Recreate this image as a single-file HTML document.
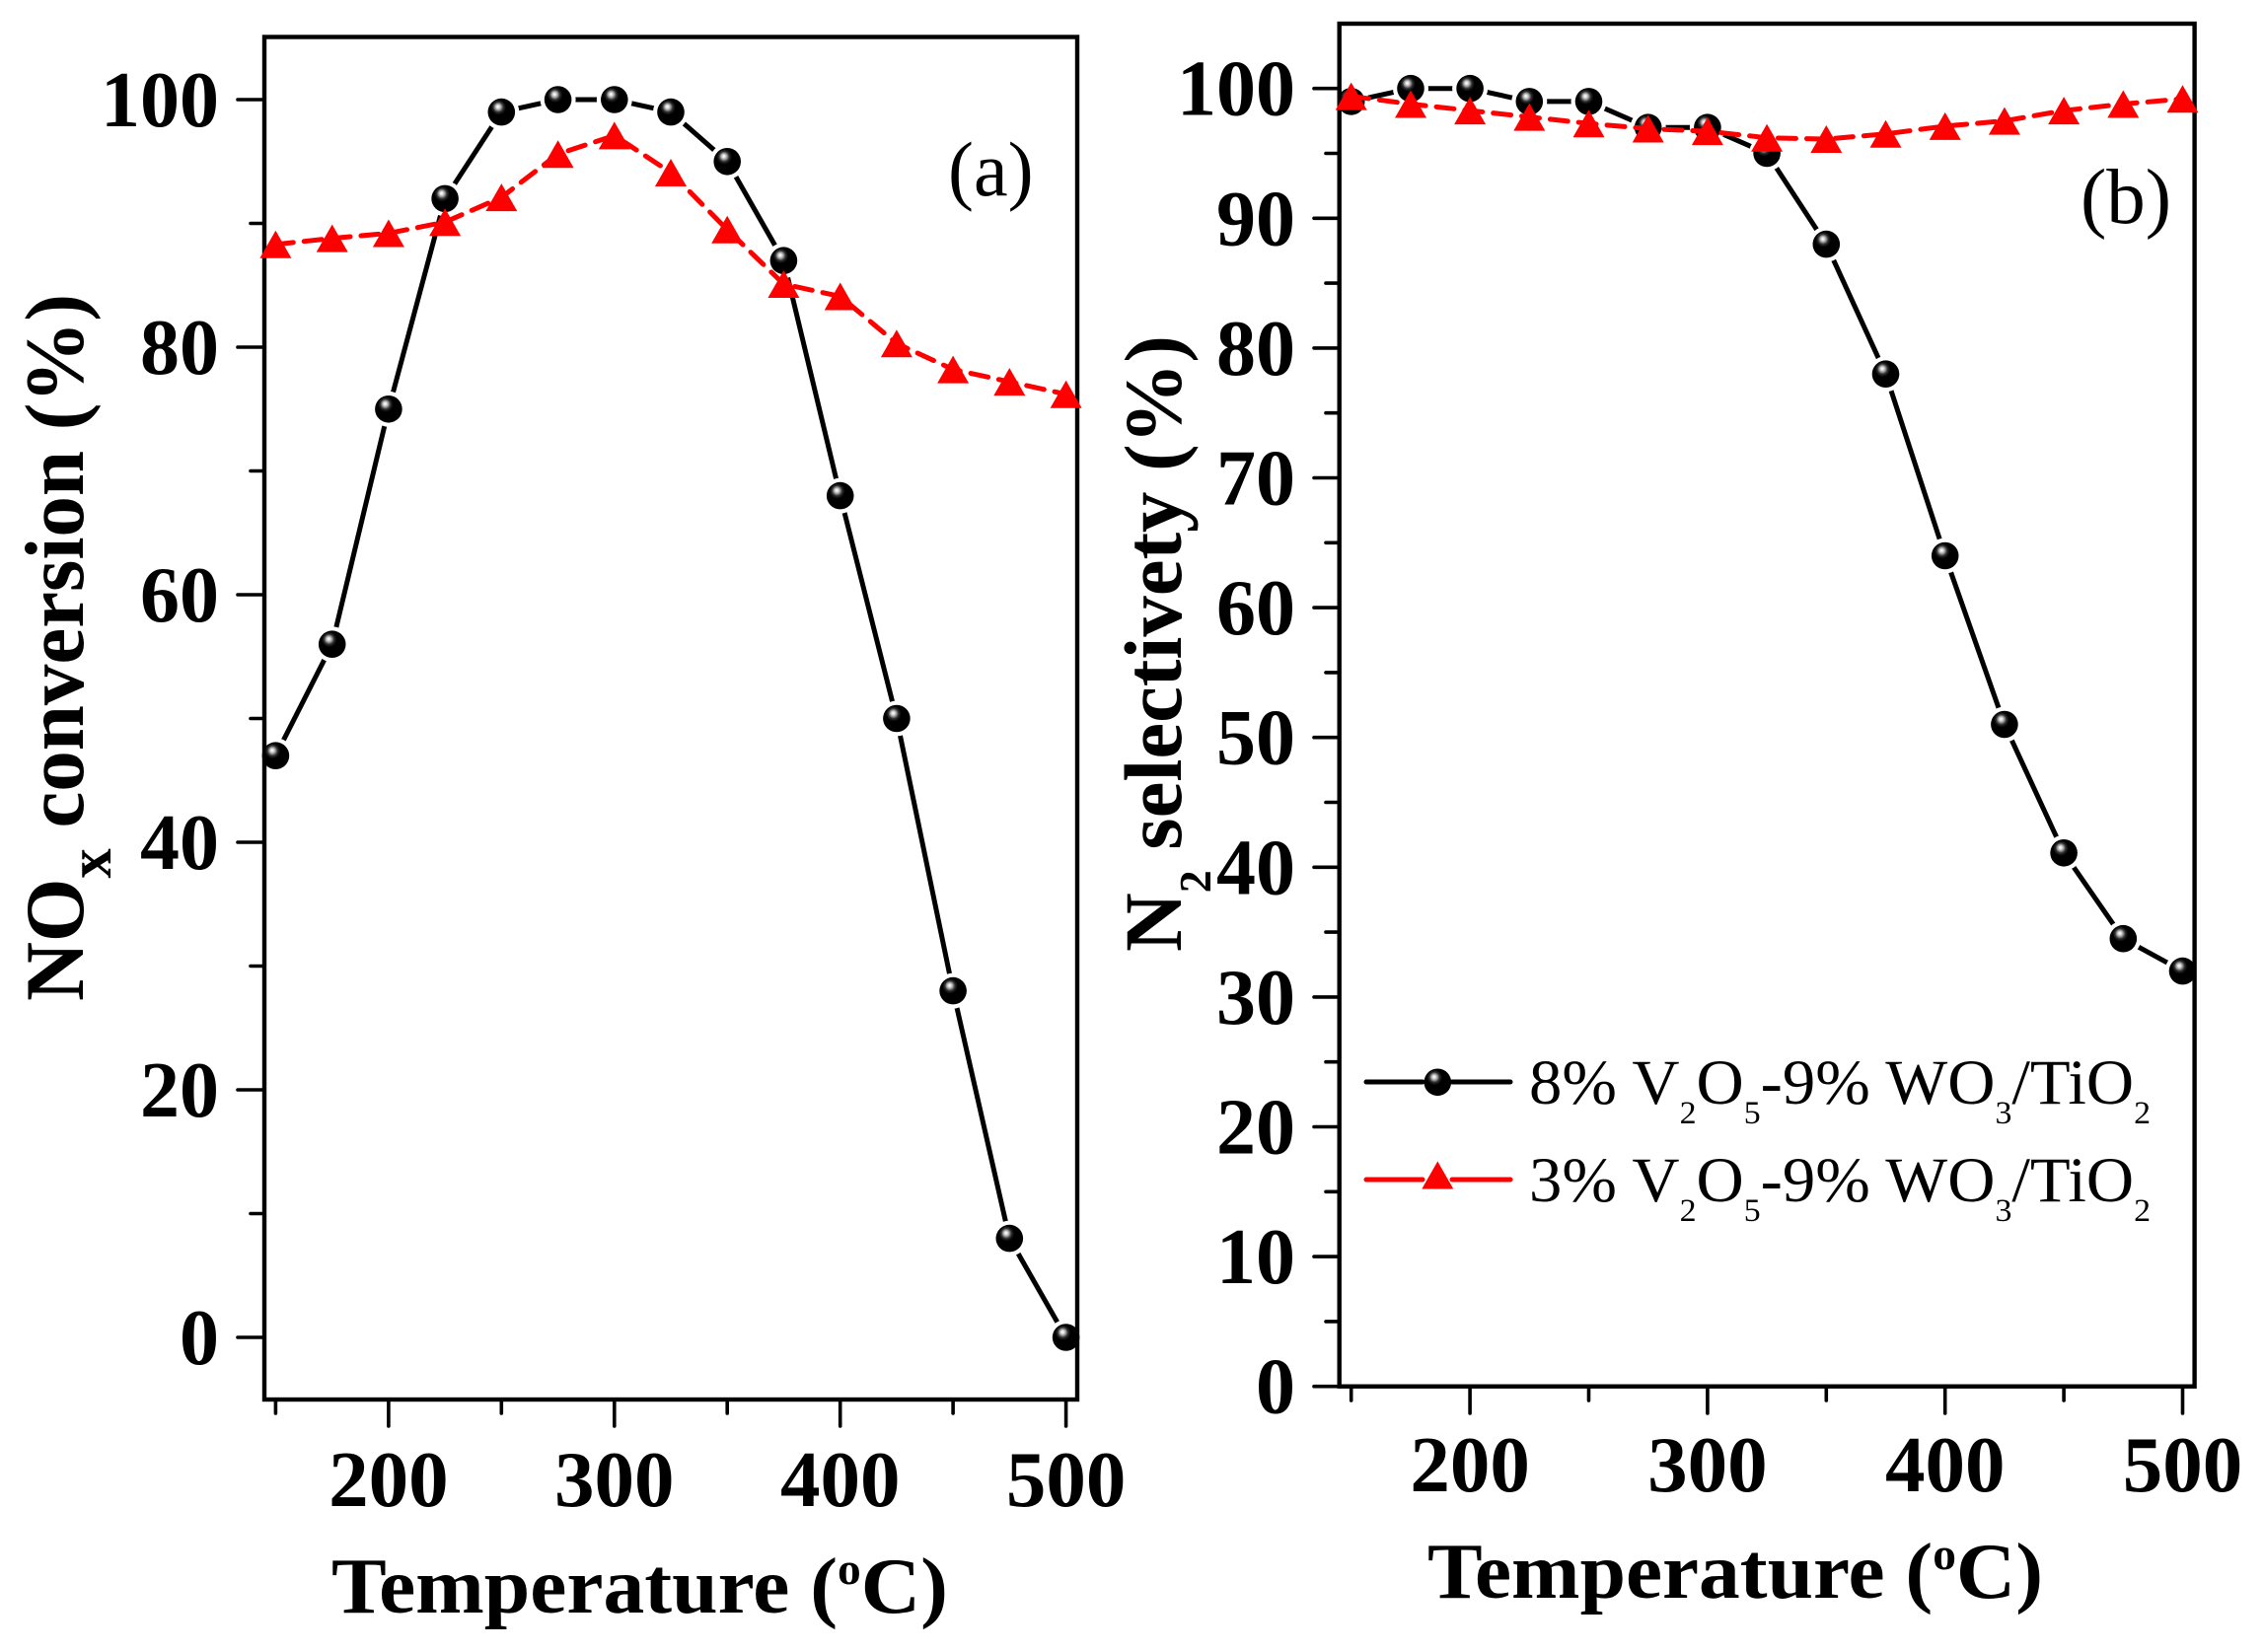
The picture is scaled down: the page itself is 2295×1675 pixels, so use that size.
<!DOCTYPE html>
<html>
<head>
<meta charset="utf-8">
<style>
  html,body{margin:0;padding:0;background:#fff;}
  svg{display:block;}
  text{font-family:"Liberation Serif","Times New Roman",serif;fill:#000;}
  .b{font-weight:bold;}
</style>
</head>
<body>
<svg width="2295" height="1675" viewBox="0 0 2295 1675" xmlns="http://www.w3.org/2000/svg">
<defs>
  <radialGradient id="sph" cx="0.42" cy="0.36" r="0.62" fx="0.37" fy="0.3">
    <stop offset="0" stop-color="#ffffff"/>
    <stop offset="0.08" stop-color="#e6e6e6"/>
    <stop offset="0.2" stop-color="#909090"/>
    <stop offset="0.3" stop-color="#303030"/>
    <stop offset="0.45" stop-color="#000000"/>
    <stop offset="1" stop-color="#000000"/>
  </radialGradient>
  <g id="tri"><polygon points="0,-14 16,14 -16,14" fill="#ff0000"/></g>
  <g id="sp"><circle r="13.8" fill="url(#sph)"/></g>
  <mask id="ma" maskUnits="userSpaceOnUse" x="0" y="0" width="2295" height="1675">
    <rect x="0" y="0" width="2295" height="1675" fill="#fff"/>
    <g fill="#000">
      <circle cx="279.4" cy="766.2" r="18"/><circle cx="336.7" cy="653.2" r="18"/><circle cx="393.9" cy="414.8" r="18"/>
      <circle cx="451.1" cy="201.4" r="18"/><circle cx="508.3" cy="113.6" r="18"/><circle cx="565.6" cy="101" r="18"/>
      <circle cx="622.8" cy="101" r="18"/><circle cx="680.0" cy="113.6" r="18"/><circle cx="737.2" cy="163.8" r="18"/>
      <circle cx="794.4" cy="264.2" r="18"/><circle cx="851.7" cy="502.6" r="18"/><circle cx="908.9" cy="728.5" r="18"/>
      <circle cx="966.1" cy="1004.6" r="18"/><circle cx="1023.3" cy="1255.6" r="18"/><circle cx="1080.6" cy="1356" r="18"/>
    </g>
  </mask>
  <mask id="mb" maskUnits="userSpaceOnUse" x="0" y="0" width="2295" height="1675">
    <rect x="0" y="0" width="2295" height="1675" fill="#fff"/>
    <g fill="#000">
      <circle cx="1369.7" cy="102.9" r="18"/><circle cx="1430.0" cy="89.7" r="18"/><circle cx="1490.1" cy="89.7" r="18"/>
      <circle cx="1550.3" cy="102.9" r="18"/><circle cx="1610.5" cy="102.9" r="18"/><circle cx="1670.7" cy="129.2" r="18"/>
      <circle cx="1730.9" cy="129.2" r="18"/><circle cx="1791.1" cy="155.5" r="18"/><circle cx="1851.3" cy="247.6" r="18"/>
      <circle cx="1911.5" cy="379.2" r="18"/><circle cx="1971.7" cy="563.5" r="18"/><circle cx="2031.9" cy="734.5" r="18"/>
      <circle cx="2092.1" cy="864.8" r="18"/><circle cx="2152.3" cy="951.7" r="18"/><circle cx="2212.5" cy="984.6" r="18"/>
    </g>
  </mask>
</defs>

<rect x="0" y="0" width="2295" height="1675" fill="#fff"/>

<!-- ================= PANEL A ================= -->
<rect x="268" y="37.5" width="824" height="1381.5" fill="none" stroke="#000" stroke-width="4.4"/>
<g stroke="#000" stroke-width="3.6" stroke-linecap="round">
  <line x1="241" y1="1356" x2="268" y2="1356"/>
  <line x1="241" y1="1105" x2="268" y2="1105"/>
  <line x1="241" y1="854" x2="268" y2="854"/>
  <line x1="241" y1="603" x2="268" y2="603"/>
  <line x1="241" y1="352" x2="268" y2="352"/>
  <line x1="241" y1="101" x2="268" y2="101"/>
  <line x1="254" y1="1230.5" x2="268" y2="1230.5"/>
  <line x1="254" y1="979.5" x2="268" y2="979.5"/>
  <line x1="254" y1="728.5" x2="268" y2="728.5"/>
  <line x1="254" y1="477.5" x2="268" y2="477.5"/>
  <line x1="254" y1="226.5" x2="268" y2="226.5"/>
  <line x1="393.9" y1="1419" x2="393.9" y2="1446"/>
  <line x1="622.8" y1="1419" x2="622.8" y2="1446"/>
  <line x1="851.7" y1="1419" x2="851.7" y2="1446"/>
  <line x1="1080.6" y1="1419" x2="1080.6" y2="1446"/>
  <line x1="279.4" y1="1419" x2="279.4" y2="1433"/>
  <line x1="508.3" y1="1419" x2="508.3" y2="1433"/>
  <line x1="737.2" y1="1419" x2="737.2" y2="1433"/>
  <line x1="966.1" y1="1419" x2="966.1" y2="1433"/>
</g>

<g class="b" font-size="80" text-anchor="end">
  <text x="222" y="1383">0</text>
  <text x="222" y="1132">20</text>
  <text x="222" y="881">40</text>
  <text x="222" y="630">60</text>
  <text x="222" y="379">80</text>
  <text x="222" y="128">100</text>
</g>
<g class="b" font-size="81" text-anchor="middle">
  <text x="393.9" y="1527">200</text>
  <text x="622.8" y="1527">300</text>
  <text x="851.7" y="1527">400</text>
  <text x="1080.6" y="1527">500</text>
</g>
<text class="b" x="336" y="1635" font-size="81" textLength="625" lengthAdjust="spacingAndGlyphs">Temperature (<tspan font-size="46" dy="-29">o</tspan><tspan dy="29">C)</tspan></text>
<text class="b" transform="translate(84,1015) rotate(-90)" font-size="85" textLength="717" lengthAdjust="spacingAndGlyphs">NO<tspan font-size="62" dy="28">x</tspan><tspan dy="-28"> conversion (%)</tspan></text>
<text x="961" y="198" font-size="78">(a)</text>

<polyline mask="url(#ma)" fill="none" stroke="#000" stroke-width="5" stroke-linejoin="round" stroke-linecap="round"
  points="279.4,766.2 336.7,653.2 393.9,414.8 451.1,201.4 508.3,113.6 565.6,101 622.8,101 680.0,113.6 737.2,163.8 794.4,264.2 851.7,502.6 908.9,728.5 966.1,1004.6 1023.3,1255.6 1080.6,1356"/>
<g>
  <use href="#sp" x="279.4" y="766.2"/><use href="#sp" x="336.7" y="653.2"/><use href="#sp" x="393.9" y="414.8"/>
  <use href="#sp" x="451.1" y="201.4"/><use href="#sp" x="508.3" y="113.6"/><use href="#sp" x="565.6" y="101"/>
  <use href="#sp" x="622.8" y="101"/><use href="#sp" x="680.0" y="113.6"/><use href="#sp" x="737.2" y="163.8"/>
  <use href="#sp" x="794.4" y="264.2"/><use href="#sp" x="851.7" y="502.6"/><use href="#sp" x="908.9" y="728.5"/>
  <use href="#sp" x="966.1" y="1004.6"/><use href="#sp" x="1023.3" y="1255.6"/><use href="#sp" x="1080.6" y="1356"/>
</g>
<polyline fill="none" stroke="#ff0000" stroke-width="5" stroke-dasharray="18 11" stroke-linejoin="round" stroke-linecap="round"
  points="279.4,247.8 336.7,241.6 393.9,236.5 451.1,225.2 508.3,200.1 565.6,156.2 622.8,137.4 680.0,175.0 737.2,232.8 794.4,288.0 851.7,300.5 908.9,348.2 966.1,374.6 1023.3,387.1 1080.6,399.7"/>
<g>
  <use href="#tri" x="279.4" y="247.8"/><use href="#tri" x="336.7" y="241.6"/><use href="#tri" x="393.9" y="236.5"/>
  <use href="#tri" x="451.1" y="225.2"/><use href="#tri" x="508.3" y="200.1"/><use href="#tri" x="565.6" y="156.2"/>
  <use href="#tri" x="622.8" y="137.4"/><use href="#tri" x="680.0" y="175.0"/><use href="#tri" x="737.2" y="232.8"/>
  <use href="#tri" x="794.4" y="288.0"/><use href="#tri" x="851.7" y="300.5"/><use href="#tri" x="908.9" y="348.2"/>
  <use href="#tri" x="966.1" y="374.6"/><use href="#tri" x="1023.3" y="387.1"/><use href="#tri" x="1080.6" y="399.7"/>
</g>

<!-- ================= PANEL B ================= -->
<rect x="1357.7" y="24" width="866.9" height="1381.7" fill="none" stroke="#000" stroke-width="4.4"/>
<g stroke="#000" stroke-width="3.6" stroke-linecap="round">
  <line x1="1332" y1="1405.7" x2="1357.7" y2="1405.7"/>
  <line x1="1332" y1="1274.1" x2="1357.7" y2="1274.1"/>
  <line x1="1332" y1="1142.5" x2="1357.7" y2="1142.5"/>
  <line x1="1332" y1="1010.9" x2="1357.7" y2="1010.9"/>
  <line x1="1332" y1="879.3" x2="1357.7" y2="879.3"/>
  <line x1="1332" y1="747.7" x2="1357.7" y2="747.7"/>
  <line x1="1332" y1="616.1" x2="1357.7" y2="616.1"/>
  <line x1="1332" y1="484.5" x2="1357.7" y2="484.5"/>
  <line x1="1332" y1="352.9" x2="1357.7" y2="352.9"/>
  <line x1="1332" y1="221.3" x2="1357.7" y2="221.3"/>
  <line x1="1332" y1="89.7" x2="1357.7" y2="89.7"/>
  <line x1="1344" y1="1339.9" x2="1357.7" y2="1339.9"/>
  <line x1="1344" y1="1208.3" x2="1357.7" y2="1208.3"/>
  <line x1="1344" y1="1076.7" x2="1357.7" y2="1076.7"/>
  <line x1="1344" y1="945.1" x2="1357.7" y2="945.1"/>
  <line x1="1344" y1="813.5" x2="1357.7" y2="813.5"/>
  <line x1="1344" y1="681.9" x2="1357.7" y2="681.9"/>
  <line x1="1344" y1="550.3" x2="1357.7" y2="550.3"/>
  <line x1="1344" y1="418.7" x2="1357.7" y2="418.7"/>
  <line x1="1344" y1="287.1" x2="1357.7" y2="287.1"/>
  <line x1="1344" y1="155.5" x2="1357.7" y2="155.5"/>
  <line x1="1490.1" y1="1405.7" x2="1490.1" y2="1433"/>
  <line x1="1730.9" y1="1405.7" x2="1730.9" y2="1433"/>
  <line x1="1971.7" y1="1405.7" x2="1971.7" y2="1433"/>
  <line x1="2212.5" y1="1405.7" x2="2212.5" y2="1433"/>
  <line x1="1369.7" y1="1405.7" x2="1369.7" y2="1420"/>
  <line x1="1610.5" y1="1405.7" x2="1610.5" y2="1420"/>
  <line x1="1851.3" y1="1405.7" x2="1851.3" y2="1420"/>
  <line x1="2092.1" y1="1405.7" x2="2092.1" y2="1420"/>
</g>

<g class="b" font-size="80" text-anchor="end">
  <text x="1313" y="1432.7">0</text>
  <text x="1313" y="1301.1">10</text>
  <text x="1313" y="1169.5">20</text>
  <text x="1313" y="1037.9">30</text>
  <text x="1313" y="906.3">40</text>
  <text x="1313" y="774.7">50</text>
  <text x="1313" y="643.1">60</text>
  <text x="1313" y="511.5">70</text>
  <text x="1313" y="379.9">80</text>
  <text x="1313" y="248.3">90</text>
  <text x="1313" y="116.7">100</text>
</g>
<g class="b" font-size="81" text-anchor="middle">
  <text x="1490.1" y="1512">200</text>
  <text x="1730.9" y="1512">300</text>
  <text x="1971.7" y="1512">400</text>
  <text x="2212.5" y="1512">500</text>
</g>
<text class="b" x="1447" y="1620" font-size="81" textLength="624" lengthAdjust="spacingAndGlyphs">Temperature (<tspan font-size="46" dy="-29">o</tspan><tspan dy="29">C)</tspan></text>
<text class="b" transform="translate(1197,965) rotate(-90)" font-size="83" textLength="625" lengthAdjust="spacingAndGlyphs">N<tspan font-size="46" dy="30">2</tspan><tspan dy="-30"> selectivety (%)</tspan></text>
<text x="2109" y="226" font-size="79">(b)</text>

<polyline mask="url(#mb)" fill="none" stroke="#000" stroke-width="5" stroke-linejoin="round" stroke-linecap="round"
  points="1369.7,102.9 1430.0,89.7 1490.1,89.7 1550.3,102.9 1610.5,102.9 1670.7,129.2 1730.9,129.2 1791.1,155.5 1851.3,247.6 1911.5,379.2 1971.7,563.5 2031.9,734.5 2092.1,864.8 2152.3,951.7 2212.5,984.6"/>
<g>
  <use href="#sp" x="1369.7" y="102.9"/><use href="#sp" x="1430.0" y="89.7"/><use href="#sp" x="1490.1" y="89.7"/>
  <use href="#sp" x="1550.3" y="102.9"/><use href="#sp" x="1610.5" y="102.9"/><use href="#sp" x="1670.7" y="129.2"/>
  <use href="#sp" x="1730.9" y="129.2"/><use href="#sp" x="1791.1" y="155.5"/><use href="#sp" x="1851.3" y="247.6"/>
  <use href="#sp" x="1911.5" y="379.2"/><use href="#sp" x="1971.7" y="563.5"/><use href="#sp" x="2031.9" y="734.5"/>
  <use href="#sp" x="2092.1" y="864.8"/><use href="#sp" x="2152.3" y="951.7"/><use href="#sp" x="2212.5" y="984.6"/>
</g>
<polyline fill="none" stroke="#ff0000" stroke-width="5" stroke-dasharray="18 11" stroke-linejoin="round" stroke-linecap="round"
  points="1369.7,97.6 1430.0,105.5 1490.1,112.1 1550.3,118.6 1610.5,125.2 1670.7,130.5 1730.9,133.1 1791.1,139.7 1851.3,141.0 1911.5,135.8 1971.7,127.9 2031.9,122.6 2092.1,112.1 2152.3,105.5 2212.5,100.2"/>
<g>
  <use href="#tri" x="1369.7" y="97.6"/><use href="#tri" x="1430.0" y="105.5"/><use href="#tri" x="1490.1" y="112.1"/>
  <use href="#tri" x="1550.3" y="118.6"/><use href="#tri" x="1610.5" y="125.2"/><use href="#tri" x="1670.7" y="130.5"/>
  <use href="#tri" x="1730.9" y="133.1"/><use href="#tri" x="1791.1" y="139.7"/><use href="#tri" x="1851.3" y="141.0"/>
  <use href="#tri" x="1911.5" y="135.8"/><use href="#tri" x="1971.7" y="127.9"/><use href="#tri" x="2031.9" y="122.6"/>
  <use href="#tri" x="2092.1" y="112.1"/><use href="#tri" x="2152.3" y="105.5"/><use href="#tri" x="2212.5" y="100.2"/>
</g>

<!-- ================= LEGEND ================= -->
<g stroke-width="5" stroke-linecap="round">
  <line x1="1385" y1="1097" x2="1442" y2="1097" stroke="#000"/>
  <line x1="1472" y1="1097" x2="1531" y2="1097" stroke="#000"/>
  <line x1="1385" y1="1196" x2="1442" y2="1196" stroke="#ff0000"/>
  <line x1="1472" y1="1196" x2="1531" y2="1196" stroke="#ff0000"/>
</g>
<use href="#sp" x="1457.3" y="1097.3"/>
<use href="#tri" x="1457.3" y="1191.5"/>
<text x="1550" y="1119" font-size="65" textLength="630" lengthAdjust="spacingAndGlyphs">8% V<tspan font-size="33" dy="20">2</tspan><tspan dy="-20">O</tspan><tspan font-size="33" dy="20">5</tspan><tspan dy="-20">-9% WO</tspan><tspan font-size="33" dy="20">3</tspan><tspan dy="-20">/TiO</tspan><tspan font-size="33" dy="20">2</tspan></text>
<text x="1550" y="1218" font-size="65" textLength="630" lengthAdjust="spacingAndGlyphs">3% V<tspan font-size="33" dy="20">2</tspan><tspan dy="-20">O</tspan><tspan font-size="33" dy="20">5</tspan><tspan dy="-20">-9% WO</tspan><tspan font-size="33" dy="20">3</tspan><tspan dy="-20">/TiO</tspan><tspan font-size="33" dy="20">2</tspan></text>
</svg>
</body>
</html>
